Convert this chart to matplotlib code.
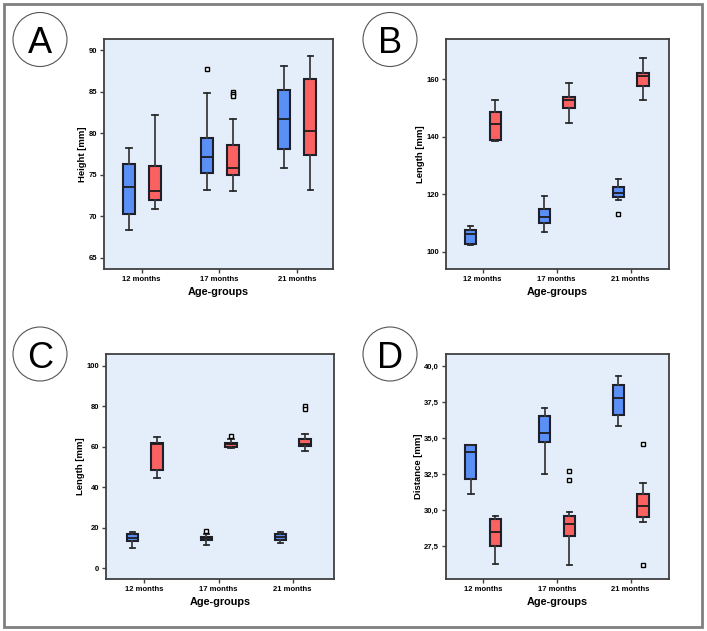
import matplotlib
matplotlib.use('Agg')
import matplotlib.pyplot as plt
from matplotlib.patches import Circle, Rectangle

plt.rcParams['font.family'] = ['Liberation Sans', 'DejaVu Sans']

# ----- data: per group [whisker low, Q1, median, Q3, whisker high]
groups = ['12 months', '17 months', '21 months']

a_blue = [[68.3, 70.3, 73.5, 76.3, 78.2], [73.16, 75.25, 77.06, 79.4, 84.86], [75.8, 78.06, 81.64, 85.2, 88.03]]
a_red = [[70.8, 71.9, 73.04, 76.05, 82.2], [73.08, 74.93, 75.8, 78.55, 81.64], [73.2, 77.34, 80.23, 86.46, 89.28]]
a_blue_out = [[], [87.75], []]
a_red_out = [[], [84.98, 84.7, 84.45], []]

b_blue = [[102.5, 102.9, 106.1, 107.8, 109.1], [106.8, 110.2, 112.0, 114.8, 119.3], [118.1, 119.2, 120.4, 122.5, 125.2]]
b_red = [[138.6, 139.0, 144.4, 148.5, 152.6], [144.9, 150.1, 152.6, 153.9, 158.8], [152.6, 157.6, 160.9, 162.2, 167.3]]
b_blue_out = [[], [], [113.2]]
b_red_out = [[], [], []]

c_blue = [[10.2, 13.3, 15.1, 16.8, 17.9], [11.5, 13.8, 14.8, 15.6, 16.9], [12.3, 14.1, 15.5, 16.8, 18.1]]
c_red = [[44.6, 48.4, 61.5, 61.8, 65.0], [59.2, 59.9, 61.2, 62.0, 63.8], [57.7, 60.2, 61.2, 64.0, 66.4]]
c_blue_out = [[], [18.3], []]
c_red_out = [[], [65.1], [80.3, 78.5]]

d_blue = [[31.11, 32.18, 34.03, 34.51, 34.51], [32.52, 34.77, 35.37, 36.57, 37.13], [35.83, 36.6, 37.78, 38.73, 39.3]]
d_red = [[26.3, 27.52, 28.5, 29.42, 29.6], [26.23, 28.19, 29.03, 29.58, 29.91], [29.21, 29.51, 30.32, 31.16, 31.92]]
d_blue_out = [[], [], []]
d_red_out = [[], [32.71, 32.1], [34.63, 26.23]]

a_ticks = [65, 70, 75, 80, 85, 90]
b_ticks = [100, 120, 140, 160]
c_ticks = [0, 20, 40, 60, 80, 100]
d_ticks = [27.5, 30.0, 32.5, 35.0, 37.5, 40.0]
d_ticklabels = ['27,5', '30,0', '32,5', '35,0', '37,5', '40,0']

BLUE = '#5a8ff5'
RED = '#fa6262'
BG = '#e4eefa'
W, H = 707, 631


def draw_panel(rect, blue, red, blue_out, red_out, ylim, xlim, yticks, yticklabels, ylabel):
    ax = fig.add_axes([rect[0] / W, 1 - rect[3] / H, (rect[2] - rect[0]) / W, (rect[3] - rect[1]) / H])
    ax.set_facecolor(BG)
    for rows, outs, color, dx in ((blue, blue_out, BLUE, -0.165), (red, red_out, RED, 0.17)):
        stats = []
        for row, fl in zip(rows, outs):
            lo, q1, med, q3, hi = row
            stats.append(dict(whislo=lo, q1=q1, med=med, q3=q3, whishi=hi, fliers=fl))
        ax.bxp(stats, positions=[i + dx for i in range(len(rows))], widths=0.155,
               patch_artist=True, manage_ticks=False, capwidths=0.075,
               boxprops=dict(facecolor=color, edgecolor='#1f1f2a', linewidth=1.5),
               medianprops=dict(color='#1c1c1c', linewidth=1.3),
               whiskerprops=dict(color='#3c3c3c', linewidth=1.3),
               capprops=dict(color='#2a2a2a', linewidth=1.3),
               flierprops=dict(marker='s', markersize=3, markerfacecolor='white',
                               markeredgecolor='black', markeredgewidth=1))
    ax.set_xlim(*xlim)
    ax.set_ylim(*ylim)
    ax.set_xticks(range(len(groups)), groups, fontweight='bold')
    ax.set_yticks(yticks, yticklabels, fontweight='bold')
    ax.tick_params(direction='out', length=3, width=1, color='#404040', labelsize=5.5, pad=2)
    for sp in ax.spines.values():
        sp.set_color('#404040')
        sp.set_linewidth(1.3)
    ax.set_xlabel('Age-groups', fontsize=7.8, fontweight='bold', labelpad=3)
    ax.set_ylabel(ylabel, fontsize=6.8, fontweight='bold', labelpad=1)
    return ax


fig = plt.figure(figsize=(W / 100, H / 100), dpi=100)

draw_panel((104, 39, 333, 269), a_blue, a_red, a_blue_out, a_red_out,
           (63.63, 91.33), (-0.485, 2.46), a_ticks, [str(t) for t in a_ticks], 'Height [mm]')
draw_panel((446, 39, 669, 269), b_blue, b_red, b_blue_out, b_red_out,
           (94.1, 173.9), (-0.496, 2.52), b_ticks, [str(t) for t in b_ticks], 'Length [mm]')
draw_panel((106, 354, 334, 579), c_blue, c_red, c_blue_out, c_red_out,
           (-5.3, 105.8), (-0.52, 2.56), c_ticks, [str(t) for t in c_ticks], 'Length [mm]')
draw_panel((446, 354, 669, 579), d_blue, d_red, d_blue_out, d_red_out,
           (25.23, 40.85), (-0.5, 2.52), d_ticks, d_ticklabels, 'Distance [mm]')

# ----- panel letters in circles
for letter, (cx, cy) in zip('ABCD', [(40, 39.5), (390, 39.5), (40, 354), (390, 354)]):
    fig.add_artist(Circle((cx / 100, (H - cy) / 100), 0.27, transform=fig.dpi_scale_trans,
                          fill=False, edgecolor='#555555', linewidth=0.8))
    fig.text(cx / W, 1 - cy / H, letter, ha='center', va='center_baseline', fontsize=26)

# ----- outer frame
fig.add_artist(Rectangle((3.5 / W, 4 / H), (702 - 3.5) / W, (627 - 4) / H, transform=fig.transFigure,
                         fill=False, edgecolor='#808080', linewidth=2))

fig.savefig('out.png', dpi=100)
